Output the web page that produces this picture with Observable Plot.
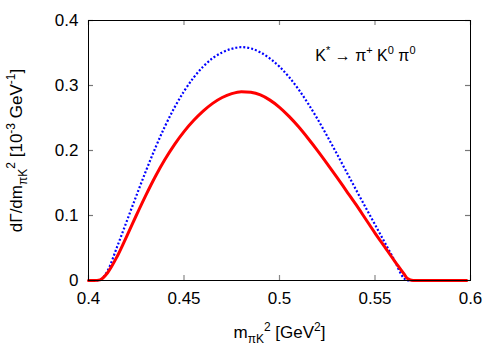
<!DOCTYPE html>
<html>
<head>
<meta charset="utf-8">
<script src="https://cdn.jsdelivr.net/npm/d3@7"></script>
<script src="https://cdn.jsdelivr.net/npm/@observablehq/plot@0.6"></script>
<style>
  html, body { margin: 0; padding: 0; background: white; }
</style>
</head>
<body>
<div id="chart"></div>
<script>
// m_{πK}^2 grid (GeV^2)
const mass = [0.400,0.403,0.406,0.410,0.415,0.420,0.425,0.430,0.435,0.440,0.445,0.450,0.455,0.460,0.465,0.470,0.475,0.480,0.485,0.490,0.495,0.500,0.505,0.510,0.515,0.520,0.525,0.530,0.535,0.540,0.545,0.550,0.555,0.560,0.565,0.567,0.570,0.580,0.590,0.598];
// red solid curve
const redValues = [0,0,0.001,0.012,0.037,0.068,0.100,0.131,0.160,0.186,0.209,0.229,0.246,0.2605,0.2725,0.2815,0.2875,0.2905,0.2895,0.2855,0.2775,0.2665,0.2525,0.2365,0.2185,0.1995,0.1795,0.159,0.138,0.117,0.095,0.073,0.052,0.031,0.011,0.003,0,0,0,0];
// blue dotted curve
const blueValues = [0,0,0.001,0.015,0.052,0.091,0.130,0.168,0.204,0.237,0.266,0.291,0.312,0.329,0.342,0.351,0.3565,0.359,0.357,0.351,0.3415,0.329,0.313,0.294,0.272,0.248,0.222,0.195,0.1675,0.140,0.113,0.086,0.059,0.032,0.004,0,0,0,0,0];

const xTicks = [0.4, 0.45, 0.5, 0.55, 0.6];
const yTicks = [0, 0.1, 0.2, 0.3, 0.4];
const xTickLabels = ["0.4", "0.45", "0.5", "0.55", "0.6"];
const yTickLabels = ["0", "0.1", "0.2", "0.3", "0.4"];

const xLabelParts = [["m","n"],["πK","sub"],["2","sup"],[" [GeV","n"],["2","sup"],["]","n"]];
const yLabelParts = [["dΓ/dm","n"],["πK","sub"],["2","sup"],[" [10","n"],["-3","sup"],[" GeV","n"],["-1","sup"],["]","n"]];
const annotationParts = [["K","n"],["*","sup"],[" → π","n"],["+","sup"],[" K","n"],["0","sup"],[" π","n"],["0","sup"]];

const red = mass.map((m, i) => ({m, v: redValues[i]}));
const blue = mass.map((m, i) => ({m, v: blueValues[i]}));

const plain = parts => parts.map(p => p[0]).join("");

const W = 500, H = 350, ML = 88, MR = 30, MT = 20, MB = 70, TICK = 5;
const innerW = W - ML - MR, innerH = H - MT - MB;

const svg = Plot.plot({
  width: W,
  height: H,
  marginLeft: ML,
  marginRight: MR,
  marginTop: MT,
  marginBottom: MB,
  style: {fontFamily: "'Liberation Sans', Arial, sans-serif", fontSize: "17px", background: "white", color: "black"},
  x: {domain: [0.4, 0.6]},
  y: {domain: [0, 0.4]},
  marks: [
    Plot.axisX(xTicks, {anchor: "bottom", tickSize: 0, tickPadding: 11,
      tickFormat: d => xTickLabels[xTicks.indexOf(d)], label: plain(xLabelParts),
      labelAnchor: "center", labelArrow: "none", labelOffset: 57}),
    Plot.axisY(yTicks, {anchor: "left", tickSize: 0, tickPadding: 10,
      tickFormat: d => yTickLabels[yTicks.indexOf(d)], label: plain(yLabelParts),
      labelAnchor: "center", labelArrow: "none", labelOffset: 79}),
    // inward ticks on all four sides
    Plot.tickX(xTicks, {x: d => d, stroke: "#888", strokeWidth: 1.2, insetTop: innerH - TICK}),
    Plot.tickX(xTicks, {x: d => d, stroke: "#888", strokeWidth: 1.2, insetBottom: innerH - TICK}),
    Plot.tickY(yTicks, {y: d => d, stroke: "#777", strokeWidth: 1.2, insetRight: innerW - TICK}),
    Plot.tickY(yTicks, {y: d => d, stroke: "#777", strokeWidth: 1.2, insetLeft: innerW - TICK}),
    Plot.line(blue, {x: "m", y: "v", stroke: "#0000ff", strokeWidth: 2.2, strokeDasharray: "2,2", strokeLinecap: "butt", curve: "monotone-x"}),
    Plot.line(red, {x: "m", y: "v", stroke: "#ff0000", strokeWidth: 3, curve: "monotone-x"}),
    Plot.text([plain(annotationParts)], {frameAnchor: "top-right", dx: -55, dy: 40, textAnchor: "end", lineAnchor: "bottom", fontSize: 16}),
    Plot.frame({stroke: "black", strokeWidth: 1})
  ]
});

function richify(el, parts, base = 17, small = 12) {
  if (!el) return;
  const t = d3.select(el);
  t.text(null);
  let cur = 0;
  for (const [s, mode] of parts) {
    const target = mode === "sup" ? -7 : mode === "sub" ? 5 : 0;
    t.append("tspan").attr("dy", target - cur).attr("font-size", mode === "n" ? base : small).text(s);
    cur = target;
  }
}

richify(svg.querySelector('g[aria-label="x-axis label"] text'), xLabelParts);
richify(svg.querySelector('g[aria-label="y-axis label"] text'), yLabelParts);
richify(svg.querySelector('g[aria-label="text"] text'), annotationParts, 16, 11);

document.getElementById("chart").appendChild(svg);
</script>
</body>
</html>
